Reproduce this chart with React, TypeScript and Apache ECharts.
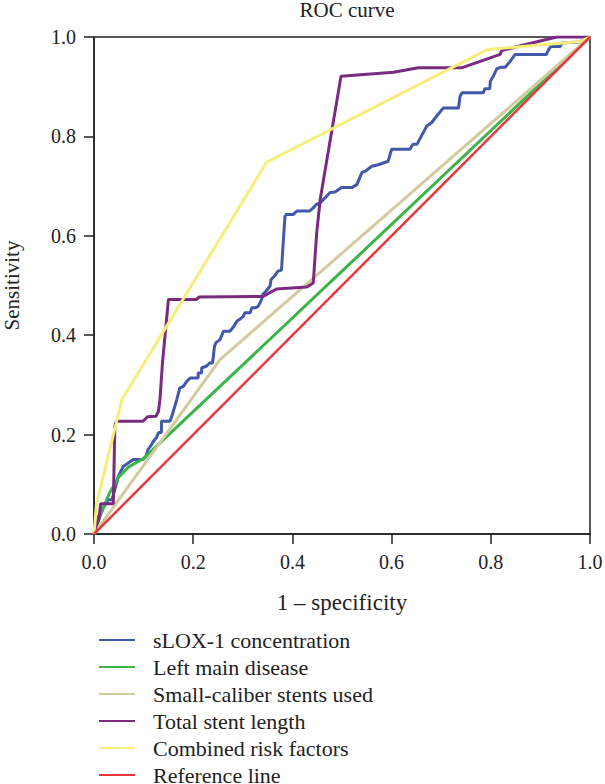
import React, { useEffect, useRef } from "react";
import * as echarts from "echarts";

const seriesNames = [
  "sLOX-1 concentration",
  "Left main disease",
  "Small-caliber stents used",
  "Total stent length",
  "Combined risk factors",
  "Reference line",
];

const seriesColors = ["#4159a8", "#3bb54a", "#d2cb9f", "#7a2b80", "#f6ee7a", "#e8383b"];

const slox1: number[][] = [
  [0, 0], [0.005, 0.02], [0.009, 0.035], [0.015, 0.045], [0.02, 0.055], [0.029, 0.069], [0.036, 0.069],
  [0.039, 0.079], [0.042, 0.09], [0.049, 0.116], [0.059, 0.136], [0.069, 0.143], [0.079, 0.15],
  [0.099, 0.15], [0.105, 0.157], [0.109, 0.17], [0.116, 0.18], [0.12, 0.187], [0.126, 0.194],
  [0.13, 0.204], [0.136, 0.204], [0.136, 0.227], [0.153, 0.227], [0.156, 0.234], [0.159, 0.244],
  [0.163, 0.257], [0.167, 0.271], [0.173, 0.294], [0.18, 0.297], [0.187, 0.307], [0.194, 0.314],
  [0.21, 0.314], [0.21, 0.324], [0.217, 0.324], [0.217, 0.334], [0.227, 0.338], [0.233, 0.344],
  [0.239, 0.344], [0.243, 0.378], [0.246, 0.385], [0.254, 0.391], [0.261, 0.408], [0.274, 0.408],
  [0.282, 0.418], [0.288, 0.428], [0.294, 0.432], [0.301, 0.438], [0.304, 0.445], [0.315, 0.445],
  [0.318, 0.455], [0.325, 0.455], [0.331, 0.458], [0.338, 0.472], [0.34, 0.482], [0.347, 0.489],
  [0.355, 0.499], [0.357, 0.512], [0.364, 0.519], [0.371, 0.529], [0.378, 0.531], [0.381, 0.579],
  [0.385, 0.639], [0.388, 0.643], [0.402, 0.643], [0.409, 0.65], [0.435, 0.65], [0.442, 0.656],
  [0.448, 0.663], [0.456, 0.666], [0.476, 0.687], [0.486, 0.688], [0.499, 0.697], [0.52, 0.697],
  [0.53, 0.703], [0.54, 0.727], [0.547, 0.73], [0.56, 0.74], [0.573, 0.743], [0.593, 0.75],
  [0.6, 0.774], [0.637, 0.774], [0.643, 0.784], [0.651, 0.784], [0.657, 0.795], [0.671, 0.821],
  [0.681, 0.828], [0.691, 0.841], [0.704, 0.857], [0.735, 0.857], [0.738, 0.881], [0.742, 0.888],
  [0.785, 0.888], [0.788, 0.896], [0.798, 0.896], [0.799, 0.911], [0.805, 0.921], [0.812, 0.936],
  [0.819, 0.939], [0.829, 0.939], [0.839, 0.951], [0.849, 0.965], [0.912, 0.965], [0.917, 0.975],
  [0.921, 0.981], [0.94, 0.981], [0.943, 0.988], [0.978, 0.99], [1, 1],
];

const leftMain: number[][] = [
  [0, 0], [0.01, 0.03], [0.03, 0.08], [0.05, 0.115], [0.07, 0.135], [0.1, 0.152], [1, 1],
];

const smallCaliber: number[][] = [[0, 0], [0.254, 0.351], [1, 1]];

const totalStent: number[][] = [
  [0, 0], [0.004, 0.016], [0.01, 0.03], [0.0135, 0.061], [0.039, 0.061], [0.042, 0.217],
  [0.045, 0.227], [0.099, 0.227], [0.108, 0.236], [0.125, 0.237], [0.13, 0.247], [0.133, 0.271],
  [0.138, 0.344], [0.145, 0.418], [0.15, 0.472], [0.207, 0.472], [0.212, 0.477], [0.341, 0.478],
  [0.368, 0.493], [0.429, 0.497], [0.442, 0.505], [0.449, 0.606], [0.456, 0.673], [0.498, 0.921],
  [0.604, 0.929], [0.654, 0.938], [0.741, 0.938], [0.819, 0.965], [0.822, 0.973], [0.912, 0.995],
  [0.933, 1.0], [1, 1],
];

const combined: number[][] = [
  [0, 0], [0.005, 0.06], [0.056, 0.27], [0.348, 0.748], [0.794, 0.975], [0.98, 0.991], [1, 1],
];

const referenceLine: number[][] = [[0, 0], [1, 1]];

const seriesData = [slox1, leftMain, smallCaliber, totalStent, combined, referenceLine];

const FONT = "Liberation Serif";
const INK = "#222222";

export default function App() {
  const ref = useRef<HTMLDivElement>(null);

  useEffect(() => {
    if (!ref.current) return;
    const chart = echarts.init(ref.current, undefined, { renderer: "svg" });
    const axisCommon = {
      type: "value" as const,
      min: 0,
      max: 1,
      interval: 0.2,
      splitLine: { show: false },
      axisLine: { show: true, onZero: false, lineStyle: { color: INK, width: 1.5 } },
      axisTick: { show: true, inside: false, length: 10, lineStyle: { color: INK, width: 1.5 } },
      axisLabel: {
        color: INK,
        fontFamily: FONT,
        fontSize: 20,
        margin: 18,
        formatter: (v: number) => v.toFixed(1),
      },
    };
    chart.setOption({
      animation: false,
      backgroundColor: "#ffffff",
      title: {
        text: "ROC curve",
        left: 342,
        textAlign: "center",
        top: -6,
        textStyle: { fontFamily: FONT, fontSize: 21, fontWeight: "normal", color: INK },
      },
      grid: {
        left: 94,
        right: 15,
        top: 37,
        bottom: 250,
        containLabel: false,
        outerBoundsMode: "none",
        show: true,
        borderColor: INK,
        borderWidth: 1.5,
        backgroundColor: "transparent",
      },
      xAxis: {
        ...axisCommon,
        name: "1 – specificity",
        nameLocation: "middle",
        nameGap: 57,
        nameTextStyle: { color: INK, fontFamily: FONT, fontSize: 23 },
      },
      yAxis: {
        ...axisCommon,
        name: "Sensitivity",
        nameLocation: "middle",
        nameGap: 72,
        nameRotate: 90,
        nameTextStyle: { color: INK, fontFamily: FONT, fontSize: 21 },
      },
      legend: {
        orient: "vertical",
        left: 94,
        top: 624,
        height: 220,
        itemWidth: 36,
        itemHeight: 2,
        itemGap: 5,
        icon: "rect",
        data: seriesNames,
        textStyle: {
          fontFamily: FONT,
          fontSize: 22,
          lineHeight: 21,
          color: INK,
          padding: [0, 0, 0, 13],
        },
      },
      series: seriesNames.map((name, i) => ({
        name,
        type: "line",
        data: seriesData[i],
        symbol: "none",
        showSymbol: false,
        color: seriesColors[i],
        lineStyle: { color: seriesColors[i], width: i === 5 ? 2.5 : 3 },
        z: 2 + i,
      })),
    });
    return () => chart.dispose();
  }, []);

  return (
    <div
      ref={ref}
      style={{ position: "fixed", left: 0, top: 0, width: 605, height: 784 }}
    />
  );
}
